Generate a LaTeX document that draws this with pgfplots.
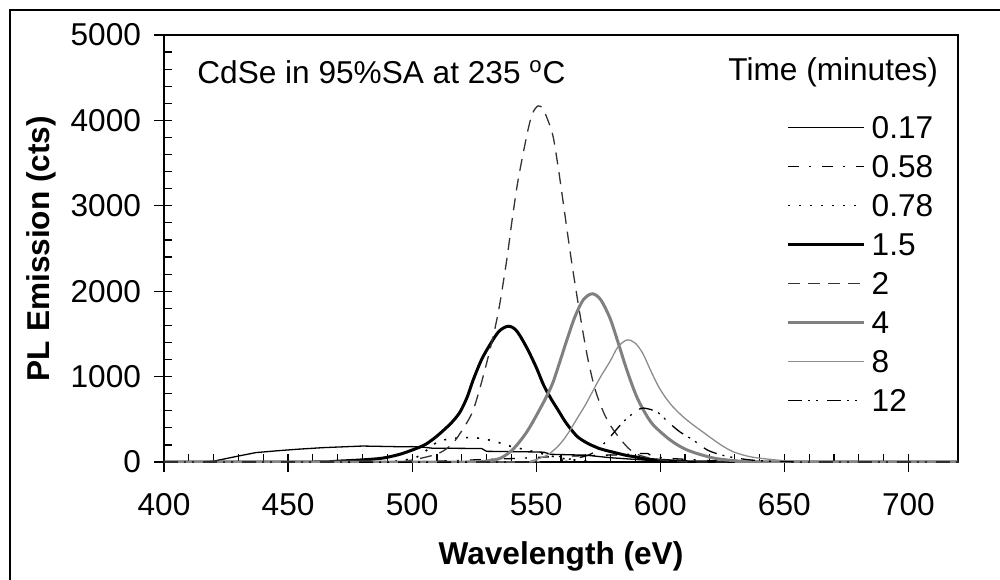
\documentclass[border=0pt]{standalone}
\usepackage{pgfplots}
\pgfplotsset{compat=1.18}
\usepackage{fontspec}
\setmainfont{Liberation Sans}
\newcommand{\cf}{\fontsize{15.8pt}{19pt}\selectfont}
\begin{document}
\begin{tikzpicture}
\begin{axis}[
  at={(0pt,0pt)}, anchor=south west,
  scale only axis, width=397pt, height=213.5pt,
  xmin=400, xmax=720, ymin=0, ymax=5000,
  xtick={400,450,...,700}, ytick={0,1000,...,5000},
  minor x tick num=4, minor y tick num=4,
  xtick pos=bottom, ytick pos=left,
  tick align=inside, major tick length=9pt, minor tick length=4pt,
  every major x tick/.append style={yshift=-5pt},
  every major y tick/.append style={xshift=-5pt},
  tick style={black, line width=0.6pt},
  axis line style={line width=0.8pt},
  /pgf/number format/assume math mode=true,
  /pgf/number format/1000 sep={},
  ticklabel style={font=\cf},
  xticklabel style={yshift=-12pt},
  yticklabel style={xshift=-8pt},
  xlabel={\textbf{Wavelength (eV)}},
  ylabel={\textbf{PL Emission (cts)}},
  xlabel style={font=\cf, at={(axis description cs:0.5,-0.2412)}, anchor=base},
  ylabel style={font=\cf, at={(axis description cs:-0.1436,0.5)}, anchor=base, rotate=0},
  legend cell align=left,
  legend image code/.code={\draw[#1] (0pt,0pt) -- (38pt,0pt);},
  legend style={draw=none, fill=none, inner sep=0pt, font=\cf,
    at={(axis cs:650.8,4057)}, anchor=north west,
    row sep=8.0pt, column sep=3pt,
    nodes={inner sep=0pt, text height=11.5pt, text depth=0pt}},
]
% 0.17
\addplot[black, line width=0.65pt] coordinates {
(400,0) (415,0) (420,10) (425,40) (430,70) (437,110) (445,130) (453,148) (464,168)
(480,187) (495,179) (500,180) (505,172) (508,162) (518,160) (528,158) (530,125)
(545,120) (553,115) (556,90) (570,80) (580,50) (590,30) (600,10) (610,0) (720,0)};
\addlegendentry{0.17}
% 0.58
\addplot[black, line width=0.65pt, dash pattern=on 5.5pt off 5pt on 1pt off 5.5pt] coordinates {
(400,0) (500,0) (520,20) (540,40) (555,60) (570,75) (585,85) (590,100) (595,100) (597,60)
(605,40) (620,15) (640,0) (720,0)};
\addlegendentry{0.58}
% 0.78
\addplot[black, line width=0.8pt, dash pattern=on 1pt off 4.5pt, smooth, tension=0.5] coordinates {
(400,0) (480,0) (495,15) (502,60) (506,140) (510,230) (515,272) (520,283) (524,286)
(528.6,272) (534,236) (539.5,185) (543.5,158) (547,135) (551,108) (556,70) (562,35)
(570,12) (580,0) (720,0)};
\addlegendentry{0.78}
% 1.5
\addplot[black, line width=1.5pt, smooth, tension=0.5] coordinates {
(400,0) (460,0) (470,10) (480,25) (488,45) (495,90) (500,140) (505,200) (509,280) (513,380)
(516.5,480) (519.4,590) (522.2,761) (524.6,960) (528,1200) (531.5,1380) (535,1530)
(538.7,1590) (542,1540) (546,1350) (550,1110) (553,900) (556,740) (559,600) (562,460)
(566.5,300) (571,215) (575.8,155) (581,115) (586.7,75) (590,60) (596,30) (610,5) (620,0) (720,0)};
\addlegendentry{1.5}
% 2
\addplot[black!80, line width=0.65pt, dash pattern=on 6pt off 4pt, smooth, tension=0.5] coordinates {
(400,0) (490,0) (498,15) (504,47) (511,105) (516.5,222) (522,457) (524.5,600) (526.6,790)
(528.6,1000) (531,1270) (533.5,1580) (535.5,1880) (538.3,2400) (540.3,2834) (542.7,3300)
(546.4,3850) (548.5,4080) (550.8,4170) (553,4120) (556.5,3850) (558.5,3520) (560.5,3120)
(562.9,2620) (564.5,2300) (566.5,1930) (568.5,1580) (570.6,1240) (573,930) (575,740)
(577.8,540) (581,380) (585,230) (588,140) (592,75) (600,25) (610,5) (620,0) (720,0)};
\addlegendentry{2}
% 4
\addplot[black!50, line width=1.5pt, smooth, tension=0.5] coordinates {
(400,0) (520,0) (528,5) (533,25) (536,50) (540.7,150) (546.4,360) (552.8,690) (556.6,920)
(559.6,1180) (562.6,1450) (565.6,1700) (569,1900) (572.6,1970) (576,1900) (579.8,1680)
(583,1400) (586.5,1080) (590,800) (593,620) (597,440) (604,258) (610.9,140) (621.4,47)
(632,10) (640,0) (720,0)};
\addlegendentry{4}
% 8
\addplot[black!45, line width=0.65pt, smooth, tension=0.5] coordinates {
(400,0) (540,0) (548,15) (552,50) (555,90) (558.5,176) (561,260) (563.7,375) (566.5,510)
(569.8,667) (573,840) (576,1000) (579.8,1180) (583,1350) (586.7,1430) (590,1390)
(593,1270) (596,1080) (599,900) (602,760) (605,650) (609,535) (613,440) (617,355)
(621,270) (625,190) (629.4,120) (635,70) (640,45) (650,15) (660,3) (670,0) (720,0)};
\addlegendentry{8}
% 12
\addplot[black, line width=0.65pt, dash pattern=on 7pt off 3pt on 1pt off 3pt on 1pt off 4.5pt, smooth, tension=0.5] coordinates {
(400,0) (550,0) (560,20) (570,70) (575,150) (580,300) (585,468) (589.9,589) (593.1,632)
(598.8,585) (603.2,468) (608,351) (613.3,257) (619,140) (625,80) (632,40) (640,15)
(650,5) (660,0) (720,0)};
\addlegendentry{12}
\node[anchor=base west, inner sep=0pt, font=\cf] at (axis cs:413.3,4438)
  {CdSe in 95\%SA at 235 \textsuperscript{o}C};
\node[anchor=base east, inner sep=0pt, font=\cf] at (axis cs:712.1,4473)
  {Time (minutes)};
\end{axis}
\pgfresetboundingbox
\path[use as bounding box] (-82pt,-58.5pt) rectangle (418pt,231pt);
\draw[line width=1pt] (-77pt,-80pt) -- (-77pt,226pt) -- (440pt,226pt);
\end{tikzpicture}
\end{document}
